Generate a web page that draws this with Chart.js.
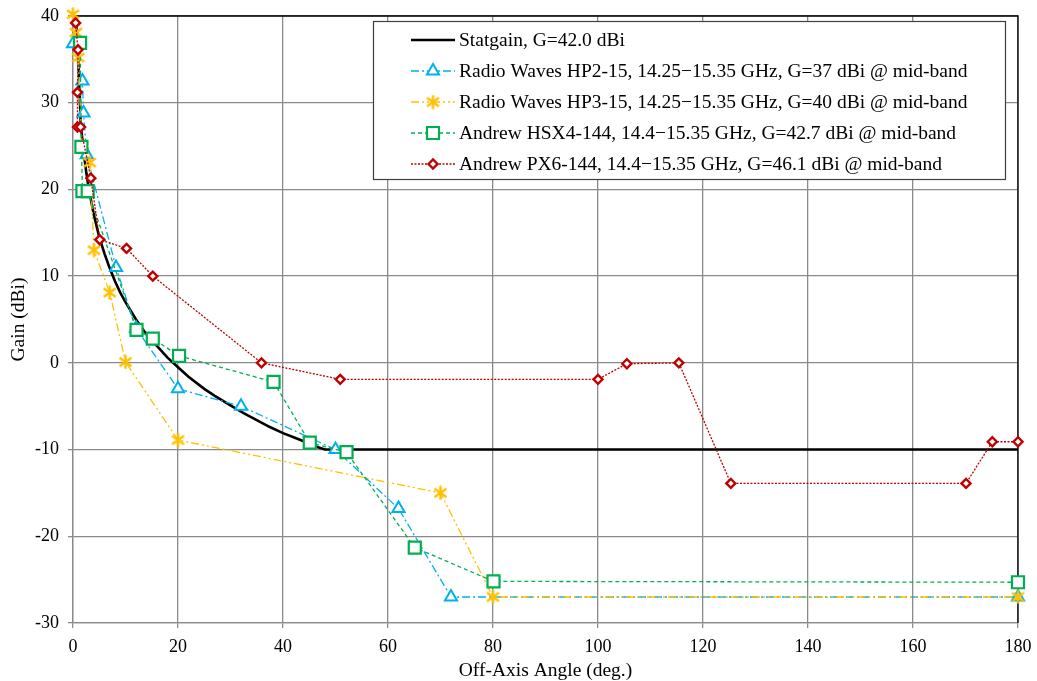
<!DOCTYPE html>
<html>
<head>
<meta charset="utf-8">
<script src="https://cdn.jsdelivr.net/npm/chart.js@4/dist/chart.umd.min.js"></script>
<style>
  body { margin: 0; background: #fff; }
  #chart { display: block; }
</style>
</head>
<body>
<canvas id="chart" width="1037" height="681"></canvas>
<script>
// Statgain reference envelope, G=42.0 dBi
const statAngle = [0, 0.25, 0.5, 0.75, 1.0, 1.25, 1.46, 1.48, 1.75, 2, 2.5, 3, 4, 5, 6, 7, 8, 9, 10, 12, 13.5, 15, 16.5, 18, 20, 22, 25, 27, 30, 32.5, 35, 37.5, 40, 42.5, 45, 46.5, 48, 180];
const statGain  = [42, 41.6, 40.3, 38.2, 35.3, 31.5, 27.7, 27.7, 25.9, 24.5, 22.1, 20.1, 17.0, 14.5, 12.6, 10.9, 9.4, 8.1, 7.0, 5.0, 3.7, 2.6, 1.6, 0.6, -0.5, -1.6, -3.0, -3.8, -4.9, -5.8, -6.6, -7.4, -8.1, -8.7, -9.3, -9.7, -10, -10];

// Radio Waves HP2-15
const hp2Angle = [0, 1.8, 2.0, 2.6, 8.2, 12, 20, 32, 50, 62, 72, 180];
const hp2Gain  = [36.8, 32.5, 28.8, 24.0, 11.0, 4.0, -3.0, -5.0, -10.0, -16.8, -27.0, -27.0];

// Radio Waves HP3-15
const hp3Angle = [0, 0.55, 1.0, 1.7, 3.2, 4, 7, 10, 20, 70, 80, 180];
const hp3Gain  = [40.2, 38.1, 35.2, 25.1, 23.1, 13.0, 8.1, 0.1, -8.9, -15.0, -27.0, -27.0];

// Andrew HSX4-144
const hsxAngle = [1.35, 1.6, 1.8, 2.8, 12.1, 15.2, 20.2, 38.2, 45.1, 52.1, 65.1, 80.1, 180];
const hsxGain  = [36.9, 24.9, 19.8, 19.8, 3.8, 2.8, 0.8, -2.2, -9.2, -10.3, -21.3, -25.2, -25.3];

// Andrew PX6-144
const pxAngle = [0.5, 0.95, 0.85, 0.85, 1.45, 3.4, 5.1, 10.2, 15.2, 35.9, 50.9, 100, 105.5, 115.4, 125.3, 170.1, 175.1, 180];
const pxGain  = [39.2, 36.1, 31.2, 27.2, 27.2, 21.3, 14.2, 13.2, 10.0, 0.0, -1.9, -1.9, -0.1, 0.0, -13.9, -13.9, -9.1, -9.1];

const seriesNames = [
  'Statgain, G=42.0 dBi',
  'Radio Waves HP2-15, 14.25\u221215.35 GHz, G=37 dBi @ mid-band',
  'Radio Waves HP3-15, 14.25\u221215.35 GHz, G=40 dBi @ mid-band',
  'Andrew HSX4-144, 14.4\u221215.35 GHz, G=42.7 dBi @ mid-band',
  'Andrew PX6-144, 14.4\u221215.35 GHz, G=46.1 dBi @ mid-band'
];

const xTicks = [0, 20, 40, 60, 80, 100, 120, 140, 160, 180];
const yTicks = [-30, -20, -10, 0, 10, 20, 30, 40];

const FONT = "'Liberation Serif', 'Times New Roman', serif";
const BLUE = '#00b0f0', YELLOW = '#ffc000', GREEN = '#00b050', RED = '#c00000';

function pts(xs, ys) {
  return xs.map((x, i) => ({ x: x, y: ys[i] }));
}

// asterisk marker like the spreadsheet one
function starImg(color) {
  const s = 15;
  const c = document.createElement('canvas');
  c.width = s; c.height = s;
  const g = c.getContext('2d');
  g.strokeStyle = color;
  g.lineWidth = 2.4;
  g.beginPath();
  g.moveTo(s / 2, 0.5); g.lineTo(s / 2, s - 0.5);
  g.moveTo(1.5, 3.2); g.lineTo(s - 1.5, s - 3.2);
  g.moveTo(s - 1.5, 3.2); g.lineTo(1.5, s - 3.2);
  g.stroke();
  return c;
}
const star = starImg(YELLOW);

function drawMarker(ctx, ds, x, y) {
  ctx.save();
  ctx.setLineDash([]);
  if (ds.pointStyle === star) {
    ctx.drawImage(star, x - star.width / 2, y - star.height / 2);
    ctx.restore();
    return;
  }
  const r = ds.pointRadius;
  ctx.lineWidth = ds.pointBorderWidth;
  ctx.strokeStyle = ds.pointBorderColor;
  ctx.fillStyle = '#fff';
  ctx.beginPath();
  if (ds.pointStyle === 'triangle') {
    ctx.moveTo(x, y - r);
    ctx.lineTo(x + Math.sin(Math.PI * 2 / 3) * r, y - Math.cos(Math.PI * 2 / 3) * r);
    ctx.lineTo(x - Math.sin(Math.PI * 2 / 3) * r, y - Math.cos(Math.PI * 2 / 3) * r);
    ctx.closePath();
  } else if (ds.pointStyle === 'rect') {
    const h = r * Math.SQRT1_2;
    ctx.rect(x - h, y - h, 2 * h, 2 * h);
  } else if (ds.pointStyle === 'rectRot') {
    ctx.moveTo(x - r, y); ctx.lineTo(x, y - r); ctx.lineTo(x + r, y); ctx.lineTo(x, y + r);
    ctx.closePath();
  }
  ctx.fill();
  ctx.stroke();
  ctx.restore();
}

const frameAndLegend = {
  id: 'frameAndLegend',
  beforeDatasetsDraw(chart) {
    const { ctx, chartArea: a } = chart;
    ctx.save();
    ctx.strokeStyle = '#000';
    ctx.lineWidth = 1.3;
    ctx.beginPath();
    ctx.moveTo(a.left, a.top); ctx.lineTo(a.right, a.top); ctx.lineTo(a.right, a.bottom);
    ctx.stroke();
    ctx.restore();
  },
  afterDraw(chart) {
    const ctx = chart.ctx;
    const box = { x: 373.5, y: 21.5, w: 632, h: 158 };
    ctx.save();
    ctx.fillStyle = '#fff';
    ctx.fillRect(box.x, box.y, box.w, box.h);
    ctx.strokeStyle = '#404040';
    ctx.lineWidth = 1.2;
    ctx.strokeRect(box.x, box.y, box.w, box.h);
    ctx.font = '19.5px ' + FONT;
    ctx.textBaseline = 'middle';
    ctx.fillStyle = '#000';
    chart.data.datasets.forEach((ds, i) => {
      const y = 40 + i * 31;
      ctx.save();
      ctx.strokeStyle = ds.borderColor;
      ctx.lineWidth = ds.borderWidth;
      ctx.setLineDash(ds.borderDash || []);
      ctx.beginPath();
      ctx.moveTo(411, y); ctx.lineTo(455, y);
      ctx.stroke();
      ctx.restore();
      if (ds.pointRadius > 0) drawMarker(ctx, ds, 433, y);
      ctx.fillText(ds.label, 459, y + 1);
    });
    ctx.restore();
  }
};

const lineCommon = { showLine: true, tension: 0, borderWidth: 1.3, pointBackgroundColor: '#fff', clip: 12 };

new Chart(document.getElementById('chart'), {
  type: 'scatter',
  data: {
    datasets: [
      { label: seriesNames[0], data: pts(statAngle, statGain), showLine: true, tension: 0,
        borderColor: '#000', borderWidth: 2.6, pointRadius: 0, order: 5 },
      Object.assign({}, lineCommon, { label: seriesNames[1], data: pts(hp2Angle, hp2Gain),
        borderColor: BLUE, borderDash: [8, 3, 2, 3], pointStyle: 'triangle', pointRadius: 7,
        pointBorderWidth: 2, pointBorderColor: BLUE, order: 4 }),
      Object.assign({}, lineCommon, { label: seriesNames[2], data: pts(hp3Angle, hp3Gain),
        borderColor: YELLOW, borderDash: [8, 3, 2, 3, 2, 3], pointStyle: star, pointRadius: 7,
        pointBorderWidth: 2, pointBorderColor: YELLOW, order: 3 }),
      Object.assign({}, lineCommon, { label: seriesNames[3], data: pts(hsxAngle, hsxGain),
        borderColor: GREEN, borderDash: [4, 3], pointStyle: 'rect', pointRadius: 8.5,
        pointBorderWidth: 2.2, pointBorderColor: GREEN, order: 2 }),
      Object.assign({}, lineCommon, { label: seriesNames[4], data: pts(pxAngle, pxGain),
        borderColor: RED, borderDash: [2, 1.5], pointStyle: 'rectRot', pointRadius: 4.5,
        pointBorderWidth: 2.4, pointBorderColor: RED, order: 1 })
    ]
  },
  options: {
    responsive: false,
    animation: false,
    events: [],
    layout: { padding: { left: 0, right: 19, top: 16, bottom: 0 } },
    plugins: { legend: { display: false }, tooltip: { enabled: false } },
    scales: {
      x: {
        type: 'linear', min: 0, max: 180,
        afterFit(scale) { scale.height = 58; scale.paddingLeft = 0; scale.paddingRight = 0; },
        afterBuildTicks(scale) { scale.ticks = xTicks.map(v => ({ value: v })); },
        grid: { color: '#8a8a8a', lineWidth: 1.3, tickLength: 5 },
        border: { color: '#8a8a8a', width: 1.3 },
        ticks: { color: '#000', font: { family: FONT, size: 18 }, padding: 8, maxRotation: 0 },
        title: { display: true, text: 'Off-Axis Angle (deg.)', color: '#000',
          font: { family: FONT, size: 19.5, lineHeight: 1.0 }, padding: { top: 0, bottom: 0 } }
      },
      y: {
        type: 'linear', min: -30, max: 40,
        afterFit(scale) { scale.width = 73; scale.paddingTop = 0; scale.paddingBottom = 0; },
        afterBuildTicks(scale) { scale.ticks = yTicks.map(v => ({ value: v })); },
        grid: { color: '#8a8a8a', lineWidth: 1.3, tickLength: 5 },
        border: { color: '#8a8a8a', width: 1.3 },
        ticks: { color: '#000', font: { family: FONT, size: 18 }, padding: 9 },
        title: { display: true, text: 'Gain (dBi)', color: '#000',
          font: { family: FONT, size: 19.5 }, padding: { top: 7, bottom: 0 } }
      }
    }
  },
  plugins: [frameAndLegend]
});
</script>
</body>
</html>
